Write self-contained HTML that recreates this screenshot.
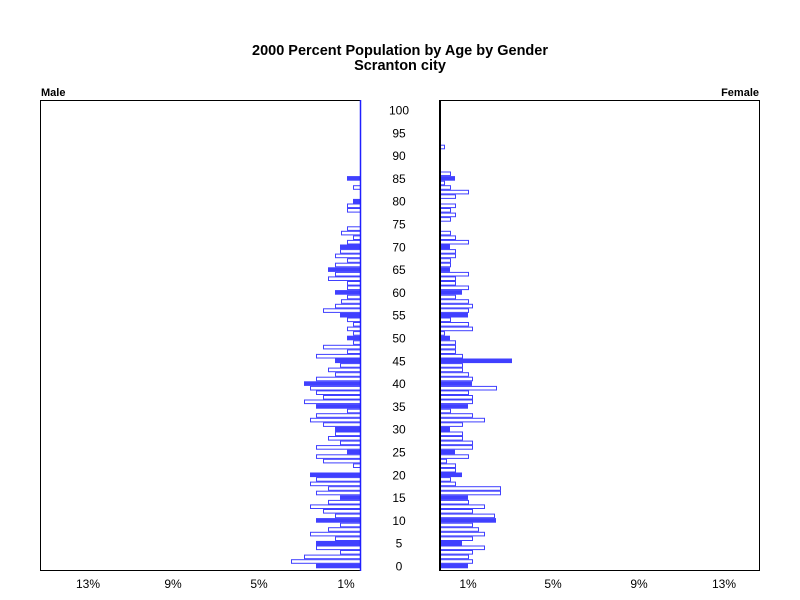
<!DOCTYPE html>
<html><head><style>
html,body{margin:0;padding:0;background:#fff;}
svg{display:block;font-family:"Liberation Sans",Arial,sans-serif;}
.o{fill:none;stroke:#4040ff;stroke-width:1}
.f{fill:#4040ff}
</style></head><body>
<svg width="800" height="600" xmlns="http://www.w3.org/2000/svg">
<text x="400" y="55" text-anchor="middle" font-size="14.5" font-weight="bold">2000 Percent Population by Age by Gender</text>
<text x="400" y="70" text-anchor="middle" font-size="14.5" font-weight="bold">Scranton city</text>
<text x="41" y="96" font-size="11" font-weight="bold">Male</text>
<text x="759" y="96" text-anchor="end" font-size="11" font-weight="bold">Female</text>
<rect x="40.5" y="100.5" width="320" height="470" fill="none" stroke="#000"/>
<rect x="439.5" y="100.5" width="320" height="470" fill="none" stroke="#000"/>
<g>
<!-- male -->
<rect class="f" x="316" y="563.7" width="44" height="4.6"/>
<rect class="o" x="291.5" y="559.7" width="69" height="3.6"/>
<rect class="o" x="304.5" y="555.1" width="56" height="3.6"/>
<rect class="o" x="340.5" y="550.5" width="20" height="3.6"/>
<rect class="o" x="316.5" y="546" width="44" height="3.6"/>
<rect class="f" x="316" y="540.9" width="44" height="4.6"/>
<rect class="o" x="335.5" y="536.9" width="25" height="3.6"/>
<rect class="o" x="310.5" y="532.3" width="50" height="3.6"/>
<rect class="o" x="328.5" y="527.7" width="32" height="3.6"/>
<rect class="o" x="340.5" y="523.2" width="20" height="3.6"/>
<rect class="f" x="316" y="518.1" width="44" height="4.6"/>
<rect class="o" x="335.5" y="514.1" width="25" height="3.6"/>
<rect class="o" x="323.5" y="509.5" width="37" height="3.6"/>
<rect class="o" x="310.5" y="504.9" width="50" height="3.6"/>
<rect class="o" x="328.5" y="500.4" width="32" height="3.6"/>
<rect class="f" x="340" y="495.3" width="20" height="4.6"/>
<rect class="o" x="316.5" y="491.2" width="44" height="3.6"/>
<rect class="o" x="328.5" y="486.7" width="32" height="3.6"/>
<rect class="o" x="310.5" y="482.1" width="50" height="3.6"/>
<rect class="o" x="316.5" y="477.6" width="44" height="3.6"/>
<rect class="f" x="310" y="472.5" width="50" height="4.6"/>
<rect class="o" x="353.5" y="463.9" width="7" height="3.6"/>
<rect class="o" x="323.5" y="459.3" width="37" height="3.6"/>
<rect class="o" x="316.5" y="454.8" width="44" height="3.6"/>
<rect class="f" x="347" y="449.7" width="13" height="4.6"/>
<rect class="o" x="316.5" y="445.6" width="44" height="3.6"/>
<rect class="o" x="340.5" y="441.1" width="20" height="3.6"/>
<rect class="o" x="328.5" y="436.5" width="32" height="3.6"/>
<rect class="o" x="335.5" y="432" width="25" height="3.6"/>
<rect class="f" x="335" y="426.9" width="25" height="4.6"/>
<rect class="o" x="323.5" y="422.8" width="37" height="3.6"/>
<rect class="o" x="310.5" y="418.3" width="50" height="3.6"/>
<rect class="o" x="316.5" y="413.7" width="44" height="3.6"/>
<rect class="o" x="347.5" y="409.2" width="13" height="3.6"/>
<rect class="f" x="316" y="404.1" width="44" height="4.6"/>
<rect class="o" x="304.5" y="400" width="56" height="3.6"/>
<rect class="o" x="323.5" y="395.5" width="37" height="3.6"/>
<rect class="o" x="316.5" y="390.9" width="44" height="3.6"/>
<rect class="o" x="310.5" y="386.4" width="50" height="3.6"/>
<rect class="f" x="304" y="381.3" width="56" height="4.6"/>
<rect class="o" x="316.5" y="377.2" width="44" height="3.6"/>
<rect class="o" x="335.5" y="372.7" width="25" height="3.6"/>
<rect class="o" x="328.5" y="368.1" width="32" height="3.6"/>
<rect class="o" x="340.5" y="363.6" width="20" height="3.6"/>
<rect class="f" x="335" y="358.5" width="25" height="4.6"/>
<rect class="o" x="316.5" y="354.4" width="44" height="3.6"/>
<rect class="o" x="347.5" y="349.9" width="13" height="3.6"/>
<rect class="o" x="323.5" y="345.3" width="37" height="3.6"/>
<rect class="o" x="353.5" y="340.8" width="7" height="3.6"/>
<rect class="f" x="347" y="335.7" width="13" height="4.6"/>
<rect class="o" x="353.5" y="331.6" width="7" height="3.6"/>
<rect class="o" x="347.5" y="327.1" width="13" height="3.6"/>
<rect class="o" x="353.5" y="322.5" width="7" height="3.6"/>
<rect class="o" x="347.5" y="318" width="13" height="3.6"/>
<rect class="f" x="340" y="312.9" width="20" height="4.6"/>
<rect class="o" x="323.5" y="308.8" width="37" height="3.6"/>
<rect class="o" x="335.5" y="304.3" width="25" height="3.6"/>
<rect class="o" x="341.5" y="299.7" width="19" height="3.6"/>
<rect class="o" x="347.5" y="295.2" width="13" height="3.6"/>
<rect class="f" x="335" y="290.1" width="25" height="4.6"/>
<rect class="o" x="347.5" y="286" width="13" height="3.6"/>
<rect class="o" x="347.5" y="281.5" width="13" height="3.6"/>
<rect class="o" x="328.5" y="276.9" width="32" height="3.6"/>
<rect class="o" x="335.5" y="272.4" width="25" height="3.6"/>
<rect class="f" x="328" y="267.3" width="32" height="4.6"/>
<rect class="o" x="335.5" y="263.2" width="25" height="3.6"/>
<rect class="o" x="347.5" y="258.7" width="13" height="3.6"/>
<rect class="o" x="335.5" y="254.1" width="25" height="3.6"/>
<rect class="o" x="340.5" y="249.6" width="20" height="3.6"/>
<rect class="f" x="340" y="244.5" width="20" height="4.6"/>
<rect class="o" x="347.5" y="240.4" width="13" height="3.6"/>
<rect class="o" x="353.5" y="235.9" width="7" height="3.6"/>
<rect class="o" x="341.5" y="231.3" width="19" height="3.6"/>
<rect class="o" x="347.5" y="226.8" width="13" height="3.6"/>
<rect class="o" x="347.5" y="208.5" width="13" height="3.6"/>
<rect class="o" x="347.5" y="204" width="13" height="3.6"/>
<rect class="f" x="353" y="198.9" width="7" height="4.6"/>
<rect class="o" x="353.5" y="185.7" width="7" height="3.6"/>
<rect class="f" x="347" y="176.1" width="13" height="4.6"/>
<!-- female -->
<rect class="f" x="440" y="563.7" width="28" height="4.6"/>
<rect class="o" x="440.5" y="559.7" width="32" height="3.6"/>
<rect class="o" x="440.5" y="555.1" width="28" height="3.6"/>
<rect class="o" x="440.5" y="550.5" width="32" height="3.6"/>
<rect class="o" x="440.5" y="546" width="44" height="3.6"/>
<rect class="f" x="440" y="540.9" width="22" height="4.6"/>
<rect class="o" x="440.5" y="536.9" width="32" height="3.6"/>
<rect class="o" x="440.5" y="532.3" width="44" height="3.6"/>
<rect class="o" x="440.5" y="527.7" width="38" height="3.6"/>
<rect class="o" x="440.5" y="523.2" width="32" height="3.6"/>
<rect class="f" x="440" y="518.1" width="56" height="4.6"/>
<rect class="o" x="440.5" y="514.1" width="54" height="3.6"/>
<rect class="o" x="440.5" y="509.5" width="32" height="3.6"/>
<rect class="o" x="440.5" y="504.9" width="44" height="3.6"/>
<rect class="o" x="440.5" y="500.4" width="28" height="3.6"/>
<rect class="f" x="440" y="495.3" width="28" height="4.6"/>
<rect class="o" x="440.5" y="491.2" width="60" height="3.6"/>
<rect class="o" x="440.5" y="486.7" width="60" height="3.6"/>
<rect class="o" x="440.5" y="482.1" width="15" height="3.6"/>
<rect class="o" x="440.5" y="477.6" width="10" height="3.6"/>
<rect class="f" x="440" y="472.5" width="22" height="4.6"/>
<rect class="o" x="440.5" y="468.4" width="15" height="3.6"/>
<rect class="o" x="440.5" y="463.9" width="15" height="3.6"/>
<rect class="o" x="440.5" y="459.3" width="6" height="3.6"/>
<rect class="o" x="440.5" y="454.8" width="28" height="3.6"/>
<rect class="f" x="440" y="449.7" width="15" height="4.6"/>
<rect class="o" x="440.5" y="445.6" width="32" height="3.6"/>
<rect class="o" x="440.5" y="441.1" width="32" height="3.6"/>
<rect class="o" x="440.5" y="436.5" width="22" height="3.6"/>
<rect class="o" x="440.5" y="432" width="22" height="3.6"/>
<rect class="f" x="440" y="426.9" width="10" height="4.6"/>
<rect class="o" x="440.5" y="422.8" width="22" height="3.6"/>
<rect class="o" x="440.5" y="418.3" width="44" height="3.6"/>
<rect class="o" x="440.5" y="413.7" width="32" height="3.6"/>
<rect class="o" x="440.5" y="409.2" width="10" height="3.6"/>
<rect class="f" x="440" y="404.1" width="28" height="4.6"/>
<rect class="o" x="440.5" y="400" width="32" height="3.6"/>
<rect class="o" x="440.5" y="395.5" width="32" height="3.6"/>
<rect class="o" x="440.5" y="390.9" width="28" height="3.6"/>
<rect class="o" x="440.5" y="386.4" width="56" height="3.6"/>
<rect class="f" x="440" y="381.3" width="32" height="4.6"/>
<rect class="o" x="440.5" y="377.2" width="32" height="3.6"/>
<rect class="o" x="440.5" y="372.7" width="28" height="3.6"/>
<rect class="o" x="440.5" y="368.1" width="22" height="3.6"/>
<rect class="o" x="440.5" y="363.6" width="22" height="3.6"/>
<rect class="f" x="440" y="358.5" width="72" height="4.6"/>
<rect class="o" x="440.5" y="354.4" width="22" height="3.6"/>
<rect class="o" x="440.5" y="349.9" width="15" height="3.6"/>
<rect class="o" x="440.5" y="345.3" width="15" height="3.6"/>
<rect class="o" x="440.5" y="340.8" width="15" height="3.6"/>
<rect class="f" x="440" y="335.7" width="10" height="4.6"/>
<rect class="o" x="440.5" y="331.6" width="4" height="3.6"/>
<rect class="o" x="440.5" y="327.1" width="32" height="3.6"/>
<rect class="o" x="440.5" y="322.5" width="28" height="3.6"/>
<rect class="o" x="440.5" y="318" width="10" height="3.6"/>
<rect class="f" x="440" y="312.9" width="28" height="4.6"/>
<rect class="o" x="440.5" y="308.8" width="28" height="3.6"/>
<rect class="o" x="440.5" y="304.3" width="32" height="3.6"/>
<rect class="o" x="440.5" y="299.7" width="28" height="3.6"/>
<rect class="o" x="440.5" y="295.2" width="15" height="3.6"/>
<rect class="f" x="440" y="290.1" width="22" height="4.6"/>
<rect class="o" x="440.5" y="286" width="28" height="3.6"/>
<rect class="o" x="440.5" y="281.5" width="15" height="3.6"/>
<rect class="o" x="440.5" y="276.9" width="15" height="3.6"/>
<rect class="o" x="440.5" y="272.4" width="28" height="3.6"/>
<rect class="f" x="440" y="267.3" width="10" height="4.6"/>
<rect class="o" x="440.5" y="263.2" width="10" height="3.6"/>
<rect class="o" x="440.5" y="258.7" width="10" height="3.6"/>
<rect class="o" x="440.5" y="254.1" width="15" height="3.6"/>
<rect class="o" x="440.5" y="249.6" width="15" height="3.6"/>
<rect class="f" x="440" y="244.5" width="10" height="4.6"/>
<rect class="o" x="440.5" y="240.4" width="28" height="3.6"/>
<rect class="o" x="440.5" y="235.9" width="15" height="3.6"/>
<rect class="o" x="440.5" y="231.3" width="10" height="3.6"/>
<rect class="o" x="440.5" y="217.6" width="10" height="3.6"/>
<rect class="o" x="440.5" y="213.1" width="15" height="3.6"/>
<rect class="o" x="440.5" y="208.5" width="10" height="3.6"/>
<rect class="o" x="440.5" y="204" width="15" height="3.6"/>
<rect class="o" x="440.5" y="194.8" width="15" height="3.6"/>
<rect class="o" x="440.5" y="190.3" width="28" height="3.6"/>
<rect class="o" x="440.5" y="185.7" width="10" height="3.6"/>
<rect class="o" x="440.5" y="181.2" width="4" height="3.6"/>
<rect class="f" x="440" y="176.1" width="15" height="4.6"/>
<rect class="o" x="440.5" y="172" width="10" height="3.6"/>
<rect class="o" x="440.5" y="145.2" width="4" height="3.6"/>
</g>
<line x1="360.5" y1="100" x2="360.5" y2="571" stroke="#2020ff" stroke-width="1.5"/>
<line x1="440.5" y1="100" x2="440.5" y2="571" stroke="#000"/>
<g font-size="12" text-anchor="middle">
<text x="88" y="588">13%</text><text x="173" y="588">9%</text><text x="259" y="588">5%</text><text x="346" y="588">1%</text>
<text x="468" y="588">1%</text><text x="553" y="588">5%</text><text x="639" y="588">9%</text><text x="724" y="588">13%</text>
</g>
<g font-size="12" text-anchor="middle">
<text x="399" y="114.5">100</text><text x="399" y="137.3">95</text><text x="399" y="160.1">90</text><text x="399" y="182.9">85</text>
<text x="399" y="205.7">80</text><text x="399" y="228.5">75</text><text x="399" y="251.3">70</text><text x="399" y="274.1">65</text>
<text x="399" y="296.9">60</text><text x="399" y="319.7">55</text><text x="399" y="342.5">50</text><text x="399" y="365.3">45</text>
<text x="399" y="388.1">40</text><text x="399" y="410.9">35</text><text x="399" y="433.7">30</text><text x="399" y="456.5">25</text>
<text x="399" y="479.3">20</text><text x="399" y="502.1">15</text><text x="399" y="524.9">10</text><text x="399" y="547.7">5</text>
<text x="399" y="570.5">0</text>
</g>
</svg>
</body></html>
